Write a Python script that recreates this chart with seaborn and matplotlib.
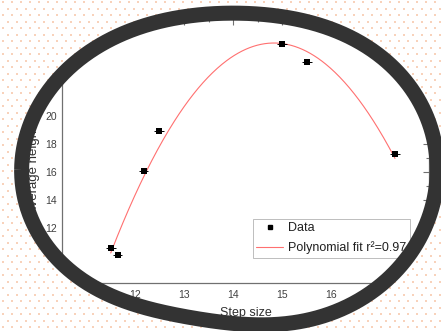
import numpy as np
import pandas as pd
import seaborn as sns
import matplotlib
matplotlib.use("Agg")
import matplotlib.pyplot as plt
from matplotlib.patches import PathPatch
from matplotlib.path import Path
from matplotlib.lines import Line2D
from matplotlib.ticker import MultipleLocator

# measured data
step_size = [11.5, 11.64, 12.17, 12.49, 15.0, 15.5, 17.3]
avg_height = [10.5, 10.0, 16.05, 18.93, 25.2, 23.86, 17.3]
step_err = [0.1, 0.1, 0.1, 0.1, 0.1, 0.1, 0.1]
fit_label = "Polynomial fit r\u00b2=0.97"

sns.set_style("white")
plt.rcParams["font.family"] = ["Liberation Sans", "DejaVu Sans"]

W, H = 441, 331
fig = plt.figure(figsize=(W / 100, H / 100), dpi=100)
fig.patch.set_facecolor("white")

# main plotting area (pixel box -> figure fractions)
L, R, T, B = 61.7, 429.3, 18.6, 283.3
ax = fig.add_axes([L / W, 1 - B / H, (R - L) / W, (B - T) / H])
ax.set_facecolor("none")

df = pd.DataFrame({"step": step_size, "height": avg_height, "err": step_err})

# second-order polynomial fit of the data
coef = np.polyfit(df["step"], df["height"], 2)
xs = np.linspace(df["step"].min(), df["step"].max(), 300)
fit_df = pd.DataFrame({"step": xs, "height": np.polyval(coef, xs)})

sns.lineplot(data=fit_df, x="step", y="height", ax=ax, color="#ff7070",
             linewidth=0.8, zorder=2)
ax.errorbar(df["step"], df["height"], xerr=df["err"], fmt="none",
            ecolor="black", elinewidth=0.7, capsize=0, zorder=3)
sns.scatterplot(data=df, x="step", y="height", ax=ax, marker="s", s=14,
                color="black", edgecolor="black", linewidth=0, zorder=4)

ax.set_xlim(10.5, 18)
ax.set_ylim(8, 27)
ax.xaxis.set_major_locator(MultipleLocator(1))
ax.xaxis.set_minor_locator(MultipleLocator(0.5))
ax.yaxis.set_major_locator(MultipleLocator(2))
ax.yaxis.set_minor_locator(MultipleLocator(1))

for sp in ax.spines.values():
    sp.set_color("#707070")
    sp.set_linewidth(0.9)
ax.tick_params(which="both", direction="in", top=True, right=True,
               colors="#707070", labelcolor="#404040", width=0.8)
ax.tick_params(which="major", length=4, labelsize=7.5, pad=3.5)
ax.tick_params(axis="x", which="major", pad=5)
ax.tick_params(which="minor", length=2.2)

ax.set_xlabel("Step size", fontsize=9, color="#303030", labelpad=5)
ax.set_ylabel("Average height (nm)", fontsize=9.5, color="#303030")
ax.yaxis.set_label_coords((40 - L) / (R - L), 1 - (155 - T) / (B - T))

handles = [
    Line2D([], [], marker="s", color="black", linestyle="none", markersize=3.5),
    Line2D([], [], color="#ff7070", linewidth=0.8),
]
leg = ax.legend(handles, ["Data", fit_label], loc="upper left",
                bbox_to_anchor=((253.3 - L) / (R - L), 1 - (219 - T) / (B - T)),
                borderaxespad=0, fontsize=9, frameon=True, fancybox=False,
                handlelength=2.15, handletextpad=0.4, borderpad=0.25,
                labelspacing=0.6)
leg.get_frame().set_edgecolor("#a0a0a0")
leg.get_frame().set_linewidth(0.6)
for t in leg.get_texts():
    t.set_color("#202020")

# oval frame overlay in pixel coordinates
ov = fig.add_axes([0, 0, 1, 1], zorder=10)
ov.set_xlim(0, W)
ov.set_ylim(H, 0)
ov.axis("off")
ov.set_facecolor("none")

# centre line of the frame: smooth closed curve (low-order Fourier radius)
fx = np.array([435, 434, 422, 405, 387, 350, 300, 250, 200, 150, 90, 50, 30,
               21, 26, 44, 61, 100, 136, 230, 300, 380, 420], float)
fy = np.array([165, 200, 235, 262, 283, 303, 319, 326, 322, 306, 285, 247, 225,
               175, 140, 100, 79, 42, 28, 15, 19, 55, 103], float)
ocx, ocy = 228.0, 170.0
phi = np.arctan2(fy - ocy, fx - ocx)
rad = np.hypot(fx - ocx, fy - ocy)
nh = 4
basis = lambda p: np.column_stack([np.ones_like(p)] +
                                  [f(k * p) for k in range(1, nh + 1)
                                   for f in (np.cos, np.sin)])
cf, *_ = np.linalg.lstsq(basis(phi), rad, rcond=None)
pp = np.linspace(-np.pi, np.pi, 720)
rr = basis(pp) @ cf
ex = ocx + rr * np.cos(pp)
ey = ocy + rr * np.sin(pp)

rect = [(-5, -5), (W + 5, -5), (W + 5, H + 5), (-5, H + 5), (-5, -5)]
verts = rect + list(zip(ex[::-1], ey[::-1]))
codes = ([Path.MOVETO] + [Path.LINETO] * 3 + [Path.CLOSEPOLY]
         + [Path.MOVETO] + [Path.LINETO] * (len(ex) - 1))
cover = PathPatch(Path(verts, codes), facecolor="white", edgecolor="none",
                  zorder=1)
ov.add_patch(cover)

# dotted backdrop outside the frame
gx, gy = [], []
for r, yy in enumerate(np.arange(2, H + 6, 6.5)):
    off = 4.5 if r % 2 else 0
    for xx in np.arange(3 + off, W + 6, 9):
        gx.append(xx)
        gy.append(yy)
dots = ov.scatter(gx, gy, marker="s", s=2.2, color="#f8d2bb", linewidths=0,
                  zorder=2)
dots.set_clip_path(cover)

ring_path = Path(np.column_stack([ex, ey]), closed=False)
ring = PathPatch(ring_path, fill=False, edgecolor="#333333", linewidth=10.8,
                 joinstyle="round", zorder=3)
ov.add_patch(ring)

fig.savefig("out.png", dpi=100)
